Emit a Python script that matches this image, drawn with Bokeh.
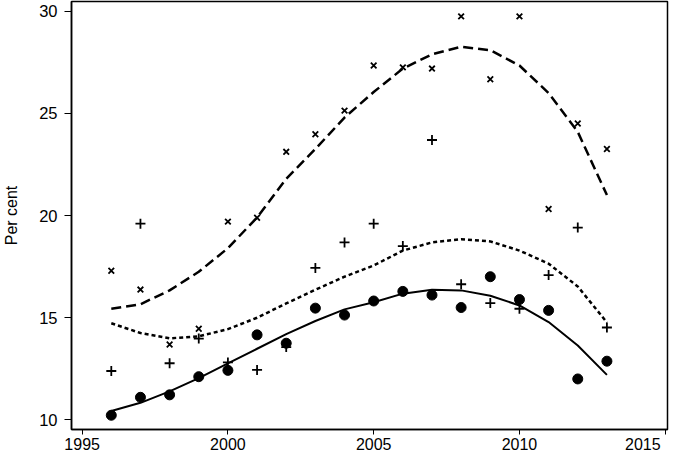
from bokeh.plotting import figure
from bokeh.models import Range1d, FixedTicker
from bokeh.embed import file_html
from bokeh.resources import INLINE

years = list(range(1996, 2014))

# series 1 (x markers) and its fitted curve (dashed)
s1_pts = [17.29, 16.37, 13.68, 14.45, 19.70, 19.89, 23.12, 23.98, 25.14, 27.35,
          27.26, 27.20, 29.76, 26.68, 29.76, 20.32, 24.51, 23.26]
s1_fit = [15.43, 15.65, 16.33, 17.24, 18.40, 19.90, 21.80, 23.26, 24.80, 26.05,
          27.20, 27.90, 28.27, 28.10, 27.35, 26.00, 24.10, 21.00]

# series 2 (+ markers) and its fitted curve (dotted)
s2_pts = [12.38, 19.60, 12.76, 13.97, 12.80, 12.43, 13.55, 17.43, 18.68, 19.60,
          18.50, 23.70, 16.63, 15.71, 15.43, 17.08, 19.41, 14.51]
s2_fit = [14.72, 14.24, 13.98, 14.08, 14.43, 14.99, 15.69, 16.36, 17.00, 17.55,
          18.28, 18.68, 18.84, 18.73, 18.28, 17.64, 16.52, 14.76]

# series 3 (filled circles) and its fitted curve (solid)
s3_pts = [10.21, 11.09, 11.21, 12.10, 12.41, 14.15, 13.74, 15.46, 15.12, 15.81,
          16.28, 16.10, 15.49, 17.00, 15.88, 15.35, 11.99, 12.86]
s3_fit = [10.42, 10.82, 11.38, 12.03, 12.75, 13.47, 14.19, 14.83, 15.40, 15.75,
          16.17, 16.36, 16.33, 16.07, 15.59, 14.78, 13.63, 12.19]

x_ticks = [1995, 2000, 2005, 2010, 2015]
y_ticks = [10, 15, 20, 25, 30]

FONT = "Liberation Sans"
X0, X1 = 1994.635, 2015.078
Y0, Y1 = 9.512, 30.488

p = figure(width=669, height=455, output_backend="svg", toolbar_location=None,
           x_range=Range1d(X0, X1), y_range=Range1d(Y0, Y1),
           min_border_left=68, min_border_right=2, min_border_top=1, min_border_bottom=24)

p.background_fill_color = "white"
p.border_fill_color = "white"
p.outline_line_color = "black"
p.outline_line_width = 1.5
p.xgrid.visible = False
p.ygrid.visible = False

p.line(years, s1_fit, line_color="black", line_width=2.5, line_dash="10 5")
p.line(years, s2_fit, line_color="black", line_width=2.5, line_dash="4 3")
p.line(years, s3_fit, line_color="black", line_width=2)

p.scatter(years, s1_pts, marker="x", size=8, line_color="black", line_width=1.8)
p.scatter(years, s2_pts, marker="cross", size=10, line_color="black", line_width=1.8)
p.scatter(years, s3_pts, marker="circle", size=10, fill_color="black", line_color="black")

for ax in (p.xaxis[0], p.yaxis[0]):
    ax.axis_line_color = "black"
    ax.axis_line_width = 1.5
    ax.major_tick_line_color = "black"
    ax.major_tick_line_width = 1
    ax.major_tick_in = 0
    ax.minor_tick_line_color = None
    ax.major_label_text_font = FONT
    ax.major_label_text_color = "black"

p.xaxis.ticker = FixedTicker(ticks=x_ticks)
p.yaxis.ticker = FixedTicker(ticks=y_ticks)
p.xaxis.major_tick_out = 5
p.yaxis.major_tick_out = 7
p.xaxis.major_label_text_font_size = "16px"
p.yaxis.major_label_text_font_size = "16.5px"
p.xaxis.major_label_standoff = 1
p.yaxis.major_label_standoff = 7
# the last x label would run past the canvas edge: pad it so it sits inside
p.xaxis.major_label_overrides = {x_ticks[-1]: str(x_ticks[-1]) + "\u00a0" * 2}

p.yaxis.axis_label = "Per cent"
p.yaxis.axis_label_text_font = FONT
p.yaxis.axis_label_text_font_size = "16px"
p.yaxis.axis_label_text_font_style = "normal"
p.yaxis.axis_label_text_color = "black"
p.yaxis.axis_label_standoff = 16

open("out.html", "w").write(file_html(p, INLINE))
